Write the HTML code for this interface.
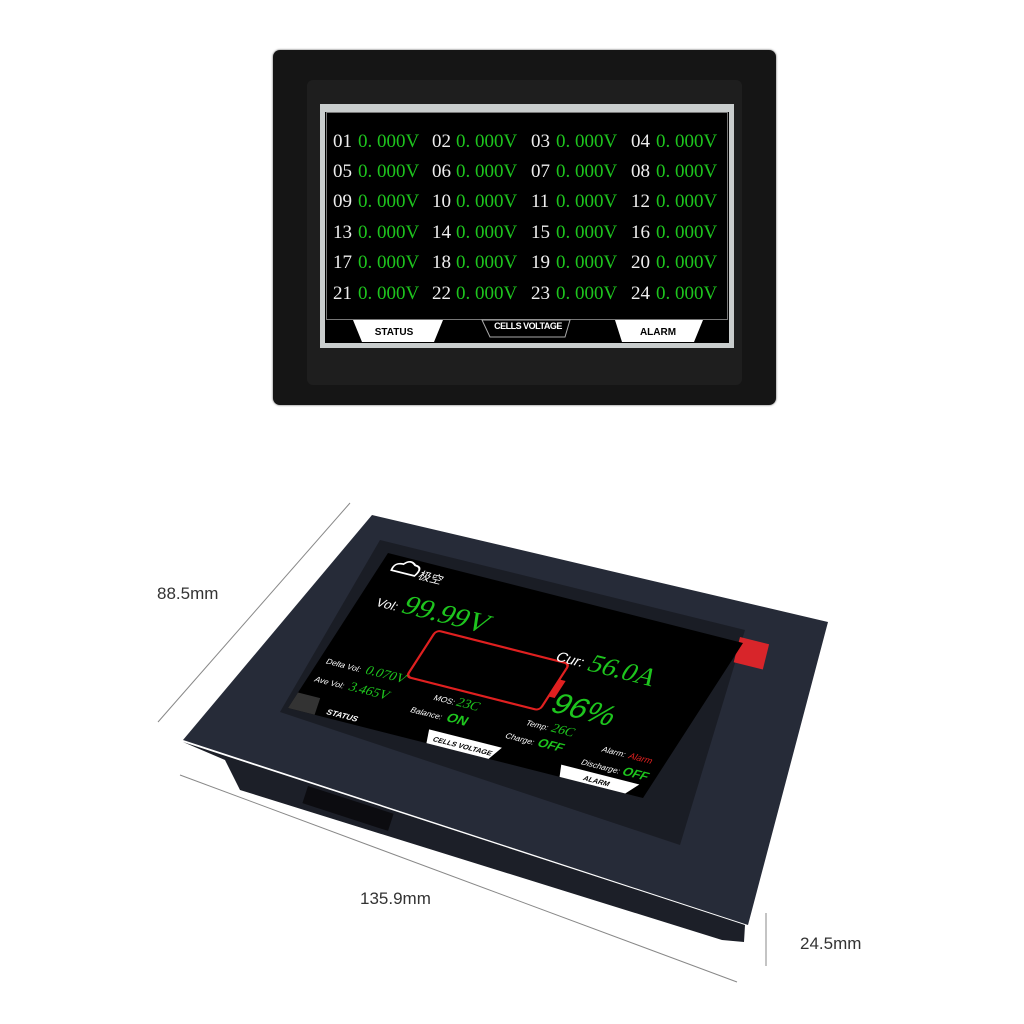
<!DOCTYPE html>
<html><head><meta charset="utf-8"><style>
html,body{margin:0;padding:0;background:#fff;width:1024px;height:1024px;overflow:hidden;position:relative;font-family:"Liberation Sans",sans-serif}
.abs{position:absolute}
.row{position:absolute;left:0;width:400px;height:30px;font-family:"Liberation Serif",serif;font-size:19px;color:#eee}
.row span{position:absolute;top:0}
.g{color:#1ec51e}
</style></head><body>
<!-- top device -->
<div class="abs" style="left:273px;top:50px;width:503px;height:355px;background:#151515;border-radius:7px;box-shadow:0 0 2px #555"></div>
<div class="abs" style="left:307px;top:80px;width:435px;height:305px;background:#1e1e1e;border-radius:6px"></div>
<div class="abs" style="left:320px;top:104px;width:414px;height:244px;background:#c9cdcd"></div>
<div class="abs" style="left:325px;top:112px;width:404px;height:231px;background:#000"></div>
<div class="abs" style="left:326px;top:112px;width:402px;height:208px;border:1px solid #777;box-sizing:border-box"></div>
<div class="abs" style="left:326px;top:122px;width:400px;height:200px">
<div class="row" style="top:9px"><span style="left:7px">01</span><span class="g" style="left:32px">0. 000V</span><span style="left:106px">02</span><span class="g" style="left:130px">0. 000V</span><span style="left:205px">03</span><span class="g" style="left:230px">0. 000V</span><span style="left:305px">04</span><span class="g" style="left:330px">0. 000V</span></div>
<div class="row" style="top:39px"><span style="left:7px">05</span><span class="g" style="left:32px">0. 000V</span><span style="left:106px">06</span><span class="g" style="left:130px">0. 000V</span><span style="left:205px">07</span><span class="g" style="left:230px">0. 000V</span><span style="left:305px">08</span><span class="g" style="left:330px">0. 000V</span></div>
<div class="row" style="top:69px"><span style="left:7px">09</span><span class="g" style="left:32px">0. 000V</span><span style="left:106px">10</span><span class="g" style="left:130px">0. 000V</span><span style="left:205px">11</span><span class="g" style="left:230px">0. 000V</span><span style="left:305px">12</span><span class="g" style="left:330px">0. 000V</span></div>
<div class="row" style="top:100px"><span style="left:7px">13</span><span class="g" style="left:32px">0. 000V</span><span style="left:106px">14</span><span class="g" style="left:130px">0. 000V</span><span style="left:205px">15</span><span class="g" style="left:230px">0. 000V</span><span style="left:305px">16</span><span class="g" style="left:330px">0. 000V</span></div>
<div class="row" style="top:130px"><span style="left:7px">17</span><span class="g" style="left:32px">0. 000V</span><span style="left:106px">18</span><span class="g" style="left:130px">0. 000V</span><span style="left:205px">19</span><span class="g" style="left:230px">0. 000V</span><span style="left:305px">20</span><span class="g" style="left:330px">0. 000V</span></div>
<div class="row" style="top:161px"><span style="left:7px">21</span><span class="g" style="left:32px">0. 000V</span><span style="left:106px">22</span><span class="g" style="left:130px">0. 000V</span><span style="left:205px">23</span><span class="g" style="left:230px">0. 000V</span><span style="left:305px">24</span><span class="g" style="left:330px">0. 000V</span></div>
</div>
<svg class="abs" style="left:0;top:0" width="1024" height="1024">
<polygon points="353,320 443,320 434,342 362,342" fill="#fff"/>
<text x="394" y="335" font-size="10" font-weight="bold" text-anchor="middle" font-family="Liberation Sans">STATUS</text>
<polygon points="482,320 570,320 565,337 490,337" fill="#000" stroke="#aaa" stroke-width="1"/>
<text x="528" y="329" font-size="9" font-weight="bold" fill="#fff" text-anchor="middle" font-family="Liberation Sans" letter-spacing="-0.5">CELLS VOLTAGE</text>
<polygon points="615,320 703,320 694,342 622,342" fill="#fff"/>
<text x="658" y="335" font-size="10" font-weight="bold" text-anchor="middle" font-family="Liberation Sans">ALARM</text>

<!-- dimension lines -->
<line x1="350" y1="503" x2="158" y2="722" stroke="#888" stroke-width="1"/>
<line x1="180" y1="775" x2="737" y2="982" stroke="#888" stroke-width="1"/>
<line x1="766" y1="913" x2="766" y2="966" stroke="#888" stroke-width="1"/>
<text x="157" y="599" font-size="17" fill="#333">88.5mm</text>
<text x="360" y="904" font-size="17" fill="#333">135.9mm</text>
<text x="800" y="949" font-size="17" fill="#333">24.5mm</text>

<!-- bottom device -->
<polygon points="183,742 745,925 744,942 722,940 240,790 225,760" fill="#1c1f28"/>
<polygon points="372,515 828,622 748,925 183,740" fill="#262b38"/>
<polygon points="380,540 745,630 680,845 280,712" fill="#1a1d25"/>
<rect x="308" y="786" width="90" height="18" fill="#0c0c10" transform="rotate(18 308 786)"/>
<rect x="740" y="637" width="30" height="26" fill="#d8252a" transform="rotate(14 740 637)"/>
<g transform="matrix(0.8875,0.225,-0.5,0.775,388,553)">
<rect x="0" y="0" width="400" height="200" fill="#000"/>
<path d="M14 18 q-2 -10 8 -10 q4 -8 12 -2 q10 0 6 12 z" fill="none" stroke="#fff" stroke-width="2"/>
<text x="44" y="20" font-size="13" fill="#fff" font-family="Liberation Sans, Noto Sans CJK SC, sans-serif">极空</text>
<text x="20" y="62" font-size="14" fill="#fff">Vol:</text>
<text x="48" y="62" font-size="32" fill="#1ec51e" font-family="Liberation Serif">99.99V</text>
<rect x="95" y="72" width="150" height="60" rx="5" fill="none" stroke="#e02020" stroke-width="2.5"/>
<rect x="244" y="92" width="8" height="22" fill="#e02020"/>
<text x="228" y="72" font-size="16" fill="#fff">Cur:</text>
<text x="264" y="74" font-size="30" fill="#1ec51e" font-family="Liberation Serif">56.0A</text>
<text x="254" y="130" font-size="34" fill="#1ec51e">96%</text>
<text x="8" y="140" font-size="9" fill="#fff">Delta Vol:</text>
<text x="52" y="140" font-size="15" fill="#1ec51e" font-family="Liberation Serif">0.070V</text>
<text x="8" y="163" font-size="9" fill="#fff">Ave Vol:</text>
<text x="46" y="163" font-size="15" fill="#1ec51e" font-family="Liberation Serif">3.465V</text>
<text x="135" y="150" font-size="9" fill="#fff">MOS:</text>
<text x="160" y="150" font-size="15" fill="#1ec51e" font-family="Liberation Serif">23C</text>
<text x="120" y="170" font-size="9" fill="#fff">Balance:</text>
<text x="160" y="170" font-size="15" font-weight="bold" fill="#1ec51e">ON</text>
<text x="240" y="152" font-size="9" fill="#fff">Temp:</text>
<text x="268" y="152" font-size="15" fill="#1ec51e" font-family="Liberation Serif">26C</text>
<text x="228" y="172" font-size="9" fill="#fff">Charge:</text>
<text x="264" y="172" font-size="14" font-weight="bold" fill="#1ec51e">OFF</text>
<text x="330" y="160" font-size="9" fill="#fff">Alarm:</text>
<text x="360" y="160" font-size="10" fill="#e02020">Alarm</text>
<text x="318" y="180" font-size="9" fill="#fff">Discharge:</text>
<text x="364" y="180" font-size="14" font-weight="bold" fill="#1ec51e">OFF</text>
<polygon points="0,180 25,180 30,200 0,200" fill="#333"/>
<text x="40" y="196" font-size="9" font-weight="bold" fill="#fff">STATUS</text>
<polygon points="150,184 232,184 226,200 156,200" fill="#fff"/>
<text x="160" y="196" font-size="8" font-weight="bold" fill="#000">CELLS VOLTAGE</text>
<polygon points="300,186 388,186 380,200 306,200" fill="#fff"/>
<text x="330" y="197" font-size="8" font-weight="bold" fill="#000">ALARM</text>
</g>
</svg>
</body></html>
